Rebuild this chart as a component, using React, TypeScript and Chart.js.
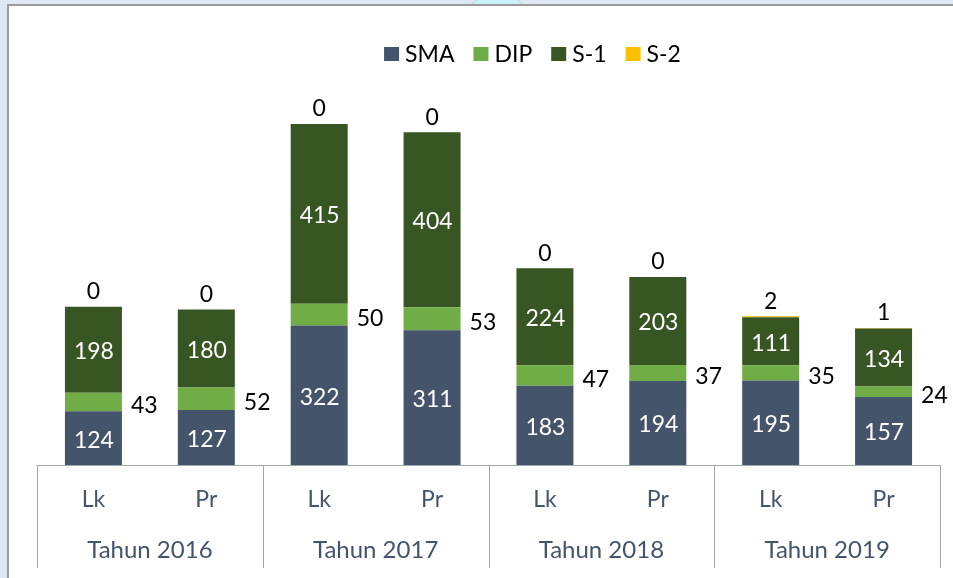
import React, { useEffect, useRef } from "react";
import { Chart, registerables } from "chart.js";

Chart.register(...registerables);

const genders = ["Lk", "Pr", "Lk", "Pr", "Lk", "Pr", "Lk", "Pr"];
const years = ["Tahun 2016", "Tahun 2017", "Tahun 2018", "Tahun 2019"];
const sma = [124, 127, 322, 311, 183, 194, 195, 157];
const dip = [43, 52, 50, 53, 47, 37, 35, 24];
const s1 = [198, 180, 415, 404, 224, 203, 111, 134];
const s2 = [0, 0, 0, 0, 0, 0, 2, 1];

const FONT = "Lato, 'Open Sans', sans-serif";

const labelPlugin = {
  id: "segLabels",
  afterDatasetsDraw(chart: any) {
    const ctx = chart.ctx;
    ctx.save();
    ctx.font = `23px ${FONT}`;
    ctx.textBaseline = "middle";
    chart.data.datasets.forEach((ds: any, di: number) => {
      const meta = chart.getDatasetMeta(di);
      meta.data.forEach((bar: any, i: number) => {
        const v = ds.data[i];
        const p = bar.getProps(["x", "y", "base", "width"], true);
        const mid = (p.y + p.base) / 2;
        if (di === 0 || di === 2) {
          ctx.fillStyle = "#ffffff";
          ctx.textAlign = "center";
          ctx.fillText(String(v), p.x + 0.5, mid + 2);
        } else if (di === 1) {
          ctx.fillStyle = "#000000";
          ctx.textAlign = "left";
          ctx.fillText(String(v), p.x + p.width / 2 + 9, mid + 4);
        } else {
          ctx.fillStyle = "#000000";
          ctx.textAlign = "center";
          ctx.fillText(String(v), p.x, p.y - 15);
        }
      });
    });
    ctx.restore();
  },
};

const legendPlugin = {
  id: "customLegend",
  afterDraw(chart: any) {
    const ctx = chart.ctx;
    ctx.save();
    ctx.font = `23px ${FONT}`;
    ctx.textBaseline = "middle";
    ctx.textAlign = "left";
    const boxW = 15;
    const boxH = 14;
    const gapBoxText = 6;
    const gapItems = 19;
    const items = chart.data.datasets.map((ds: any) => ({
      text: ds.label,
      color: ds.backgroundColor,
      w: ctx.measureText(ds.label).width,
    }));
    const total =
      items.reduce((a: number, it: any) => a + boxW + gapBoxText + it.w, 0) +
      gapItems * (items.length - 1);
    const centerX = 523.5;
    const centerY = 48;
    let x = centerX - total / 2;
    items.forEach((it: any) => {
      ctx.fillStyle = it.color;
      ctx.fillRect(x, centerY - boxH / 2, boxW, boxH);
      ctx.fillStyle = "#000000";
      ctx.fillText(it.text, x + boxW + gapBoxText, centerY + 1);
      x += boxW + gapBoxText + it.w + gapItems;
    });
    ctx.restore();
  },
};

const separatorPlugin = {
  id: "groupSeparators",
  afterDraw(chart: any) {
    const x2 = chart.scales.x2;
    const x = chart.scales.x;
    const ctx = chart.ctx;
    ctx.save();
    ctx.strokeStyle = "#a6a6a6";
    ctx.lineWidth = 1;
    const half = (x2.getPixelForValue(1) - x2.getPixelForValue(0)) / 2;
    const positions: number[] = years.map((_, i) => x2.getPixelForValue(i) - half);
    positions.push(x2.getPixelForValue(years.length - 1) + half);
    positions.forEach((px) => {
      const xx = Math.round(px) + 0.5;
      ctx.beginPath();
      ctx.moveTo(xx, x.top);
      ctx.lineTo(xx, x2.bottom);
      ctx.stroke();
    });
    ctx.restore();
  },
};

export default function App() {
  const ref = useRef<HTMLCanvasElement | null>(null);

  useEffect(() => {
    if (!ref.current) return;
    const chart = new Chart(ref.current, {
      type: "bar",
      data: {
        labels: genders,
        datasets: [
          { label: "SMA", data: sma, backgroundColor: "#44546a" },
          { label: "DIP", data: dip, backgroundColor: "#70ad47" },
          { label: "S-1", data: s1, backgroundColor: "#375623" },
          { label: "S-2", data: s2, backgroundColor: "#ffc000" },
        ],
      },
      options: {
        responsive: false,
        animation: false,
        layout: { padding: { left: 28, right: 13, top: 69, bottom: 10 } },
        datasets: {
          bar: { categoryPercentage: 1, barPercentage: 0.505 },
        },
        plugins: {
          tooltip: { enabled: false },
          legend: { display: false },
        },
        scales: {
          x: {
            stacked: true,
            offset: true,
            grid: { display: false, drawTicks: false },
            border: { display: true, color: "#a6a6a6", width: 1 },
            ticks: {
              color: "#44546a",
              font: { family: FONT, size: 23 },
              padding: 21,
              maxRotation: 0,
              autoSkip: false,
            },
            afterFit: (s: any) => {
              s.height = 51;
            },
          },
          x2: {
            type: "category",
            labels: years,
            position: "bottom",
            offset: true,
            grid: { display: false, drawTicks: false },
            border: { display: false },
            ticks: {
              color: "#44546a",
              font: { family: FONT, size: 24 },
              padding: 20,
              maxRotation: 0,
              autoSkip: false,
            },
            afterFit: (s: any) => {
              s.height = 52;
            },
          },
          y: {
            stacked: true,
            display: false,
            min: 0,
            max: 900,
          },
        },
      },
      plugins: [labelPlugin, legendPlugin, separatorPlugin],
    });
    return () => chart.destroy();
  }, []);

  return (
    <div style={{ position: "fixed", inset: 0, background: "#dde8f4", overflow: "hidden" }}>
      <div
        style={{
          position: "absolute",
          left: 461,
          top: -7,
          width: 70,
          height: 70,
          borderRadius: "50%",
          background: "#c9f1f9",
          border: "1px solid #c0cdd6",
        }}
      />
      <div
        style={{
          position: "absolute",
          left: 7,
          top: 4,
          right: 0,
          bottom: 0,
          background: "#ffffff",
          borderLeft: "2px solid #9a9a9a",
          borderTop: "2px solid #9a9a9a",
        }}
      >
        <canvas ref={ref} width={944} height={572} style={{ display: "block" }} />
      </div>
    </div>
  );
}
